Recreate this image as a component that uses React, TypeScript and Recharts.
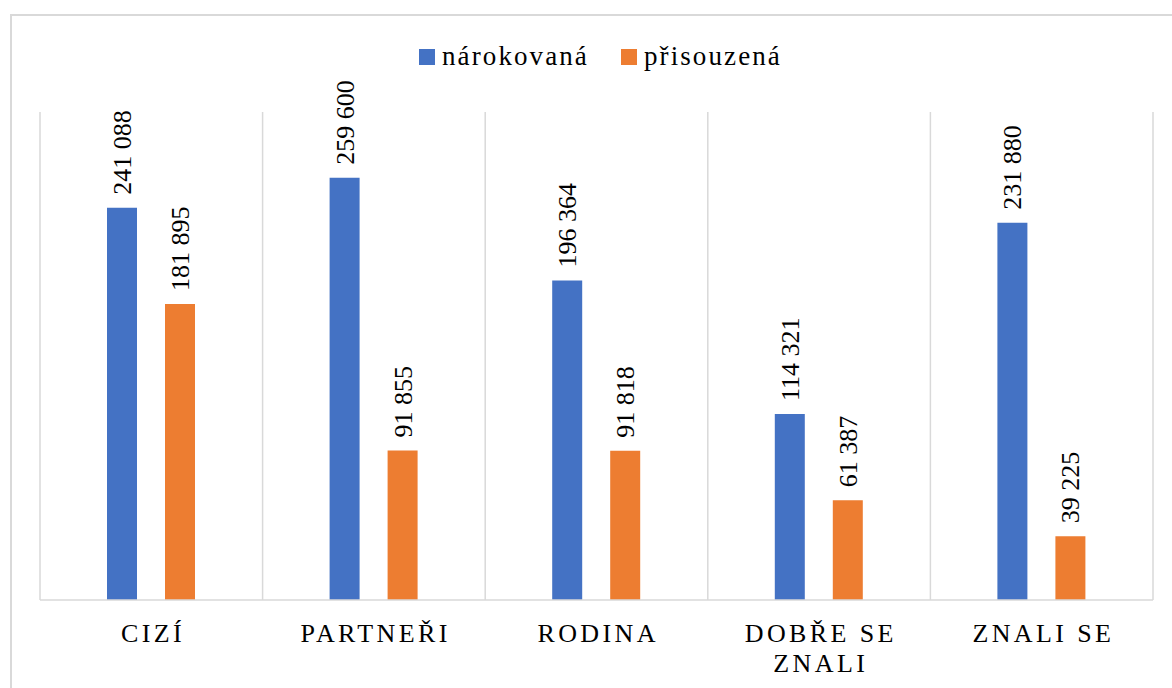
import React from 'react';
import { BarChart, Bar, XAxis, YAxis, CartesianGrid, LabelList } from 'recharts';

const categories = ['CIZÍ', 'PARTNEŘI', 'RODINA', 'DOBŘE SE ZNALI', 'ZNALI SE'];
const claimed = [241088, 259600, 196364, 114321, 231880];
const awarded = [181895, 91855, 91818, 61387, 39225];
const seriesNames = ['nárokovaná', 'přisouzená'];
const seriesColors = ['#4472C4', '#ED7D31'];
const yDomain = [0, 300000];

const FONT = '"Liberation Serif", "Times New Roman", serif';
const GRID = '#d9d9d9';

const data = categories.map((name, i) => ({ name, claimed: claimed[i], awarded: awarded[i] }));

const fmt = (v: number) => String(v).replace(/\B(?=(\d{3})+(?!\d))/g, ' ');

// greedy wrap on spaces, roughly like Excel does for the long category
const wrapLabel = (s: string, maxChars: number) => {
  const lines: string[] = [];
  let cur = '';
  s.split(' ').forEach((w) => {
    const next = cur ? cur + ' ' + w : w;
    if (next.length > maxChars && cur) {
      lines.push(cur);
      cur = w;
    } else {
      cur = next;
    }
  });
  if (cur) lines.push(cur);
  return lines;
};

const CategoryTick = (props: any) => {
  const { x, y, payload } = props;
  const lines = wrapLabel(payload.value, 10);
  return (
    <text x={x} y={y} textAnchor="middle" fontSize={26} fontFamily={FONT} letterSpacing={3.4} fill="#000">
      {lines.map((l, i) => (
        <tspan key={i} x={x + 1.7} dy={i === 0 ? 42 : 30}>
          {l}
        </tspan>
      ))}
    </text>
  );
};

const ValueLabel = (props: any) => {
  const { x, y, width, value } = props;
  const cx = Number(x) + Number(width) / 2;
  return (
    <text
      transform={`translate(${cx + 9},${Number(y) - 13}) rotate(-90)`}
      fontSize={26}
      fontFamily={FONT}
      fill="#000"
    >
      {fmt(Number(value))}
    </text>
  );
};

const Legend = () => (
  <div
    style={{
      position: 'absolute',
      left: 419,
      top: 43,
      display: 'flex',
      alignItems: 'center',
      fontFamily: FONT,
      fontSize: 27,
      lineHeight: 1,
      letterSpacing: 2.1,
      color: '#000',
    }}
  >
    {seriesNames.map((n, i) => (
      <div key={n} style={{ display: 'flex', alignItems: 'center', marginRight: 32 }}>
        <span style={{ width: 16, height: 16, background: seriesColors[i], marginRight: 7 }} />
        <span>{n}</span>
      </div>
    ))}
  </div>
);

export default function App() {
  return (
    <div
      style={{
        position: 'fixed',
        left: 0,
        top: 0,
        width: 1172,
        height: 688,
        overflow: 'hidden',
        background: '#fff',
      }}
    >
      <div
        style={{
          position: 'absolute',
          left: 10,
          top: 14,
          width: 1200,
          height: 720,
          border: `2px solid ${GRID}`,
        }}
      />
      <Legend />
      <div style={{ position: 'absolute', left: 0, top: 0 }}>
        <BarChart
          width={1172}
          height={688}
          data={data}
          margin={{ top: 112, right: 19, left: 40, bottom: 28 }}
          barGap={28}
        >
          <CartesianGrid
            horizontal={false}
            stroke={GRID}
            strokeWidth={1.5}
            verticalCoordinatesGenerator={({ offset }: any) =>
              Array.from({ length: categories.length + 1 }, (_, i) => offset.left + (i * offset.width) / categories.length)
            }
          />
          <XAxis
            dataKey="name"
            interval={0}
            height={60}
            tickLine={false}
            tickSize={0}
            tickMargin={0}
            axisLine={{ stroke: GRID, strokeWidth: 1.5 }}
            tick={<CategoryTick />}
          />
          <YAxis hide domain={yDomain} />
          <Bar dataKey="claimed" name={seriesNames[0]} fill={seriesColors[0]} barSize={30} isAnimationActive={false}>
            <LabelList dataKey="claimed" content={<ValueLabel />} />
          </Bar>
          <Bar dataKey="awarded" name={seriesNames[1]} fill={seriesColors[1]} barSize={30} isAnimationActive={false}>
            <LabelList dataKey="awarded" content={<ValueLabel />} />
          </Bar>
        </BarChart>
      </div>
    </div>
  );
}
